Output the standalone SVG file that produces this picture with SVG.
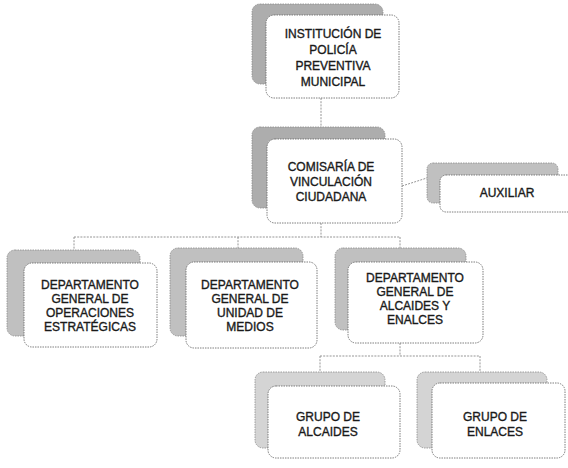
<svg xmlns="http://www.w3.org/2000/svg" width="568" height="468" viewBox="0 0 568 468">
<style>
.bg{fill:#ffffff}
.sh{stroke:#8a8a8a;stroke-width:0.8;stroke-dasharray:1.5 1}
.sh1{fill:#adadad}
.sh2{fill:#c0c0c0}
.sh3{fill:#d4d4d4}
.fr{fill:#ffffff;stroke:#6f6f6f;stroke-width:0.9;stroke-dasharray:1.5 1}
.t{font-family:"Liberation Sans",Arial,sans-serif;font-size:12px;fill:#1a1a1a;stroke:#1a1a1a;stroke-width:0.35;text-anchor:middle}
.c{fill:none;stroke:#8a8a8a;stroke-width:0.9;stroke-dasharray:2 1.2}
</style>
<rect class="bg" x="0" y="0" width="568" height="468"/>
<g id="connectors">
<path class="c" d="M321,98 V127"/>
<path class="c" d="M402,186 L430,177"/>
<path class="c" d="M321,223 V237 M74,237 H400 M74,237 V250 M238,237 V248 M400,237 V248"/>
<path class="c" d="M400,343 V356 M320,356 H480 M320,356 V372 M480,356 V372"/>
</g>
<g id="n-institucion">
<rect class="sh sh1" x="252" y="4" width="131" height="80" rx="8"/>
<rect class="fr" x="266" y="15" width="133" height="83" rx="8"/>
<text class="t" x="333" y="38">INSTITUCIÓN DE</text>
<text class="t" x="333" y="54">POLICÍA</text>
<text class="t" x="333" y="70">PREVENTIVA</text>
<text class="t" x="333" y="86">MUNICIPAL</text>
</g>
<g id="n-comisaria">
<rect class="sh sh1" x="252" y="127" width="133" height="81" rx="8"/>
<rect class="fr" x="267" y="139" width="135" height="84" rx="8"/>
<text class="t" x="331" y="171">COMISARÍA DE</text>
<text class="t" x="331" y="186">VINCULACIÓN</text>
<text class="t" x="331" y="201">CIUDADANA</text>
</g>
<g id="n-auxiliar">
<rect class="sh sh2" x="427" y="163" width="131" height="40" rx="6"/>
<rect class="fr" x="440" y="175" width="134" height="37" rx="6"/>
<text class="t" x="507" y="197">AUXILIAR</text>
</g>
<g id="n-dep-operaciones">
<rect class="sh sh2" x="7" y="250" width="133" height="86" rx="8"/>
<rect class="fr" x="24" y="263" width="133" height="84" rx="8"/>
<text class="t" x="90" y="289">DEPARTAMENTO</text>
<text class="t" x="90" y="303">GENERAL DE</text>
<text class="t" x="90" y="317">OPERACIONES</text>
<text class="t" x="90" y="331">ESTRATÉGICAS</text>
</g>
<g id="n-dep-medios">
<rect class="sh sh2" x="170" y="248" width="133" height="88" rx="8"/>
<rect class="fr" x="186" y="262" width="131" height="86" rx="8"/>
<text class="t" x="250" y="289">DEPARTAMENTO</text>
<text class="t" x="250" y="303">GENERAL DE</text>
<text class="t" x="250" y="317">UNIDAD DE</text>
<text class="t" x="250" y="331">MEDIOS</text>
</g>
<g id="n-dep-alcaides">
<rect class="sh sh2" x="335" y="248" width="131" height="82" rx="8"/>
<rect class="fr" x="348" y="262" width="135" height="81" rx="8"/>
<text class="t" x="415" y="282">DEPARTAMENTO</text>
<text class="t" x="415" y="296">GENERAL DE</text>
<text class="t" x="415" y="310">ALCAIDES Y</text>
<text class="t" x="415" y="324">ENALCES</text>
</g>
<g id="n-grupo-alcaides">
<rect class="sh sh3" x="255" y="372" width="130" height="76" rx="8"/>
<rect class="fr" x="268" y="386" width="132" height="72" rx="8"/>
<text class="t" x="328" y="421">GRUPO DE</text>
<text class="t" x="328" y="436">ALCAIDES</text>
</g>
<g id="n-grupo-enlaces">
<rect class="sh sh3" x="417" y="372" width="130" height="76" rx="8"/>
<rect class="fr" x="432" y="383" width="133" height="75" rx="8"/>
<text class="t" x="495" y="421">GRUPO DE</text>
<text class="t" x="495" y="436">ENLACES</text>
</g>
</svg>
